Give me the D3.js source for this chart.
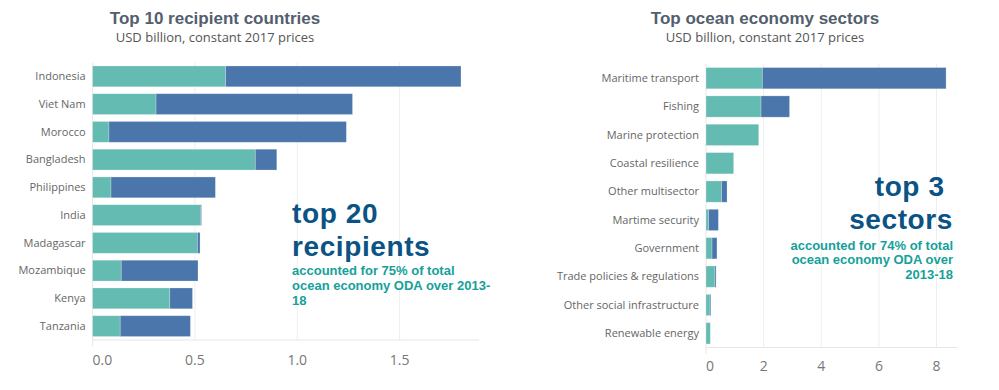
<!DOCTYPE html>
<html>
<head>
<meta charset="utf-8">
<script src="https://cdn.jsdelivr.net/npm/d3@7"></script>
<style>
  body { margin: 0; background: #fff; }
  svg { display: block; }
</style>
</head>
<body>
<svg id="chart" width="999" height="390"></svg>
<script>
// recipient countries, USD billion (teal part + blue part)
var countries = ["Indonesia", "Viet Nam", "Morocco", "Bangladesh", "Philippines",
  "India", "Madagascar", "Mozambique", "Kenya", "Tanzania"];
var countryTeal = [0.65, 0.31, 0.08, 0.795, 0.09, 0.527, 0.512, 0.14, 0.377, 0.135];
var countryBlue = [1.15, 0.96, 1.16, 0.105, 0.51, 0.005, 0.013, 0.375, 0.111, 0.343];
var countryTicks = [0, 0.5, 1.0, 1.5];

// ocean economy sectors
var sectors = ["Maritime transport", "Fishing", "Marine protection", "Coastal resilience",
  "Other multisector", "Martime security", "Government", "Trade policies & regulations",
  "Other social infrastructure", "Renewable energy"];
var sectorTeal = [1.955, 1.91, 1.83, 0.96, 0.54, 0.09, 0.21, 0.31, 0.14, 0.15];
var sectorBlue = [6.375, 0.99, 0, 0, 0.19, 0.34, 0.17, 0.04, 0.03, 0];
var sectorTicks = [0, 2, 4, 6, 8];

var teal = "#64bbb2", blue = "#4a76ab";
var svg = d3.select("#chart");

function drawPanel(opt) {
  var rows = opt.cats.map(function (c, i) {
    return { cat: c, teal: opt.teal[i], blue: opt.blue[i] };
  });
  var x = d3.scaleLinear().domain(opt.domain).range(opt.xRange);
  var y = d3.scaleBand().domain(opt.cats).range(opt.yRange)
    .paddingInner(0.25).paddingOuter(0.125);
  var g = svg.append("g");

  // titles
  g.append("text").attr("x", opt.titleX).attr("y", 24)
    .attr("text-anchor", "middle")
    .style("font", "bold 17px 'Liberation Sans', Arial, sans-serif")
    .style("fill", "#535e6e").text(opt.title);
  g.append("text").attr("x", opt.titleX).attr("y", 42)
    .attr("text-anchor", "middle")
    .style("font", "13px 'Open Sans', sans-serif")
    .style("fill", "#555").text("USD billion, constant 2017 prices");

  // gridlines
  g.selectAll(".grid").data(opt.ticks.slice(1)).enter().append("line")
    .attr("x1", function (d) { return x(d); }).attr("x2", function (d) { return x(d); })
    .attr("y1", opt.yRange[0]).attr("y2", opt.yRange[1])
    .style("stroke", "#eeeeee");
  // zero line + baseline
  g.append("line").attr("x1", x(0)).attr("x2", x(0))
    .attr("y1", opt.yRange[0]).attr("y2", opt.yRange[1] + 6)
    .style("stroke", "#e6e6e6");
  g.append("line").attr("x1", x(0)).attr("x2", opt.xRange[1])
    .attr("y1", opt.yRange[1]).attr("y2", opt.yRange[1])
    .style("stroke", "#e6e6e6");

  // stacked bars
  var stack = d3.stack().keys(["teal", "blue"])(rows);
  g.selectAll(".layer").data(stack).enter().append("g")
    .style("fill", function (d) { return d.key === "teal" ? teal : blue; })
    .selectAll("rect").data(function (d) { return d; }).enter().append("rect")
    .attr("x", function (d) { return x(d[0]); })
    .attr("y", function (d) { return y(d.data.cat); })
    .attr("width", function (d) { return Math.max(0, x(d[1]) - x(d[0])); })
    .attr("height", y.bandwidth())
    .style("stroke", "rgba(255,255,255,0.3)").style("stroke-width", 0.8);

  // category labels
  g.selectAll(".cat").data(opt.cats).enter().append("text")
    .attr("x", x(0) - 7)
    .attr("y", function (d) { return y(d) + y.bandwidth() / 2; })
    .attr("dy", "0.35em").attr("text-anchor", "end")
    .style("font", "11px 'Open Sans', sans-serif").style("fill", "#666")
    .text(function (d) { return d; });

  // tick labels
  g.selectAll(".tick").data(opt.ticks).enter().append("text")
    .attr("x", function (d) { return x(d); })
    .attr("y", opt.tickY)
    .attr("text-anchor", function (d, i) { return i === 0 ? "start" : "middle"; })
    .style("font", "14px 'Open Sans', sans-serif").style("fill", "#777")
    .text(function (d) { return opt.fmt(d); });

  // annotation
  var a = g.append("text").attr("text-anchor", opt.anchor)
    .style("font-family", "'Liberation Sans', Arial, sans-serif").style("font-weight", "bold");
  opt.big.forEach(function (t, i) {
    a.append("tspan").attr("x", opt.annX).attr("y", opt.bigY[i])
      .style("font-size", "28px").style("letter-spacing", "0.6px")
      .style("fill", "#0b5384").text(t);
  });
  opt.small.forEach(function (t, i) {
    a.append("tspan").attr("x", opt.annX).attr("y", opt.smallY[i])
      .style("font-size", "13px").style("fill", "#15a19a").text(t);
  });
}

drawPanel({
  cats: countries, teal: countryTeal, blue: countryBlue, ticks: countryTicks,
  domain: [0, 1.888], xRange: [92.6, 479], yRange: [62.5, 340],
  title: "Top 10 recipient countries", titleX: 215, tickY: 365,
  fmt: d3.format(".1f"),
  anchor: "start", annX: 292,
  big: ["top 20", "recipients"], bigY: [223, 256],
  small: ["accounted for 75% of total", "ocean economy ODA over 2013-", "18"],
  smallY: [275, 290, 305]
});

drawPanel({
  cats: sectors, teal: sectorTeal, blue: sectorBlue, ticks: sectorTicks,
  domain: [0, 8.72], xRange: [706, 957.3], yRange: [64, 347.5],
  title: "Top ocean economy sectors", titleX: 765, tickY: 371,
  fmt: d3.format("d"),
  anchor: "end", annX: 953,
  big: ["top 3\u00a0", "sectors"], bigY: [196, 229],
  small: ["accounted for 74% of total", "ocean economy ODA over", "2013-18"],
  smallY: [250, 264, 279]
});
</script>
</body>
</html>
